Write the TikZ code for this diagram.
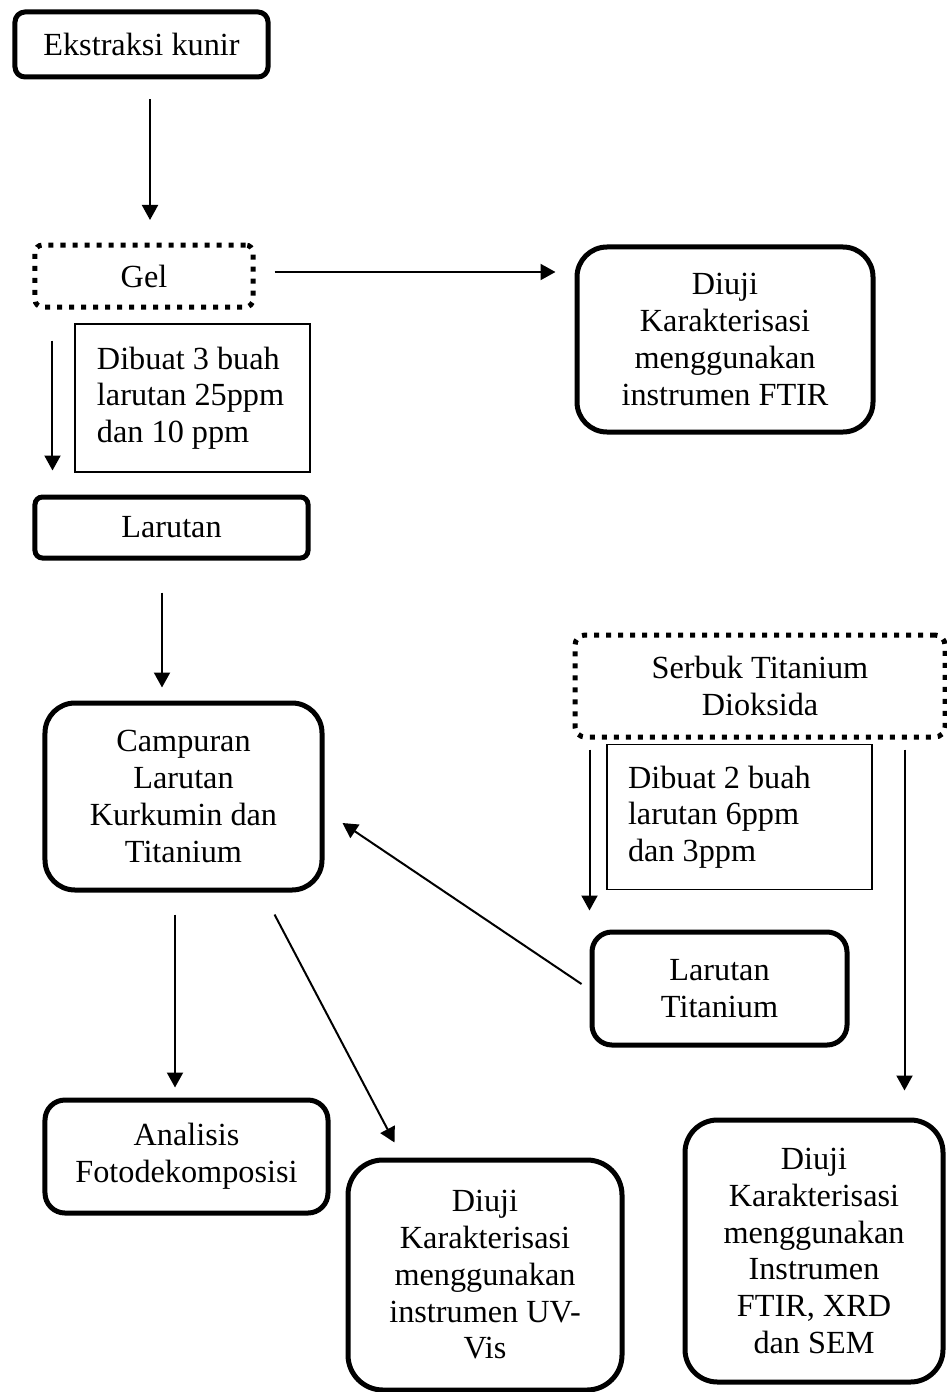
\documentclass[tikz,border=0pt]{standalone}
\usepackage{fontspec}
\setmainfont{Liberation Serif}
\usetikzlibrary{
	positioning,
	arrows.meta,
	calc
}

\begin{document}
\begin{tikzpicture}[x=0.4pt,y=-0.4pt,
	font=\fontsize{12.9}{14.7}\selectfont,
	box/.style={draw,line width=2pt,align=center,inner sep=1pt},
	dotbox/.style={box,dash pattern=on 2pt off 2.8pt},
	note/.style={draw,line width=0.7pt,align=flush left,inner sep=0pt},
	arrow/.style={line width=0.8pt,-{Triangle[length=6pt,width=6.4pt]}}]
	\useasboundingbox (0,0) rectangle (946,1392);

	\node[box,rounded corners=4pt,minimum width=101.2pt,minimum height=26pt] (ekstraksi) at (141.5,44.5) {Ekstraksi kunir};
	\node[dotbox,rounded corners=3pt,minimum width=87.2pt,minimum height=24.8pt] (gel) at (144,276) {Gel};
	\node[box,rounded corners=12pt,minimum width=118.4pt,minimum height=74pt] (ftir) at (725,339.5) {Diuji\\Karakterisasi\\menggunakan\\instrumen FTIR};
	\node[note,minimum width=94pt,minimum height=59.2pt,text width=76.4pt] (note_gel) at (192.5,398) {Dibuat 3 buah\\larutan 25ppm\\dan 10 ppm};
	\node[box,rounded corners=3pt,minimum width=109.2pt,minimum height=24.4pt] (larutan) at (171.5,527.5) {Larutan};
	\node[box,rounded corners=12pt,minimum width=110.8pt,minimum height=74.8pt] (campuran) at (183.5,796.5) {Campuran\\Larutan\\Kurkumin dan\\Titanium};
	\node[dotbox,rounded corners=4pt,minimum width=148pt,minimum height=40.8pt] (serbuk) at (760,686) {Serbuk Titanium\\Dioksida};
	\node[note,minimum width=106pt,minimum height=58pt,text width=89.2pt] (note_serbuk) at (739.5,817) {Dibuat 2 buah\\larutan 6ppm\\dan 3ppm};
	\node[box,rounded corners=8pt,minimum width=102pt,minimum height=45.2pt] (titanium) at (719.5,988.5) {Larutan\\Titanium};
	\node[box,rounded corners=8pt,minimum width=113.2pt,minimum height=45.2pt] (analisis) at (186.5,1156.5) {Analisis\\Fotodekomposisi};
	\node[box,rounded corners=14pt,minimum width=109.6pt,minimum height=92pt] (uvvis) at (485,1275) {Diuji\\Karakterisasi\\menggunakan\\instrumen UV-\\Vis};
	\node[box,rounded corners=13pt,minimum width=103.2pt,minimum height=104.8pt] (final) at (814,1251) {Diuji\\Karakterisasi\\menggunakan\\Instrumen\\FTIR, XRD\\dan SEM};

	\draw[arrow,shorten <=8pt,shorten >=9pt] ([xshift=3.4pt]ekstraksi.south) -- ([xshift=3.4pt]ekstraksi.south |- gel.north);
	\draw[arrow,shorten <=7.6pt,shorten >=7.6pt] ([yshift=1.6pt]gel.east) -- ([yshift=1.6pt]gel.east -| ftir.west);
	\draw[arrow,shorten <=12.4pt,shorten >=9.6pt] ([xshift=8pt]gel.south west) -- ([xshift=8pt]gel.south west |- larutan.north);
	\draw[arrow,shorten <=12.8pt,shorten >=5.2pt] ([xshift=-3.8pt]larutan.south) -- ([xshift=-3.8pt]larutan.south |- campuran.north);
	\draw[arrow,shorten <=8.8pt,shorten >=4pt] ([xshift=-3.4pt]campuran.south) -- ([xshift=-3.4pt]campuran.south |- analisis.north);
	\draw[arrow] ([xshift=-20pt,yshift=-8.8pt]campuran.south east) -- ([xshift=19.6pt,yshift=6pt]uvvis.north west);
	\draw[arrow] ([xshift=-3.2pt,yshift=1.8pt]titanium.west) -- ([xshift=7.2pt,yshift=-10.6pt]campuran.east);
	\draw[arrow,shorten <=4pt,shorten >=7.6pt] ([xshift=6.8pt]serbuk.south west) -- ([xshift=6.8pt]serbuk.south west |- titanium.north);
	\draw[arrow,shorten <=4pt,shorten >=10.8pt] ([xshift=-17.2pt]serbuk.south east) -- ([xshift=-17.2pt]serbuk.south east |- final.north);

\end{tikzpicture}
\end{document}
